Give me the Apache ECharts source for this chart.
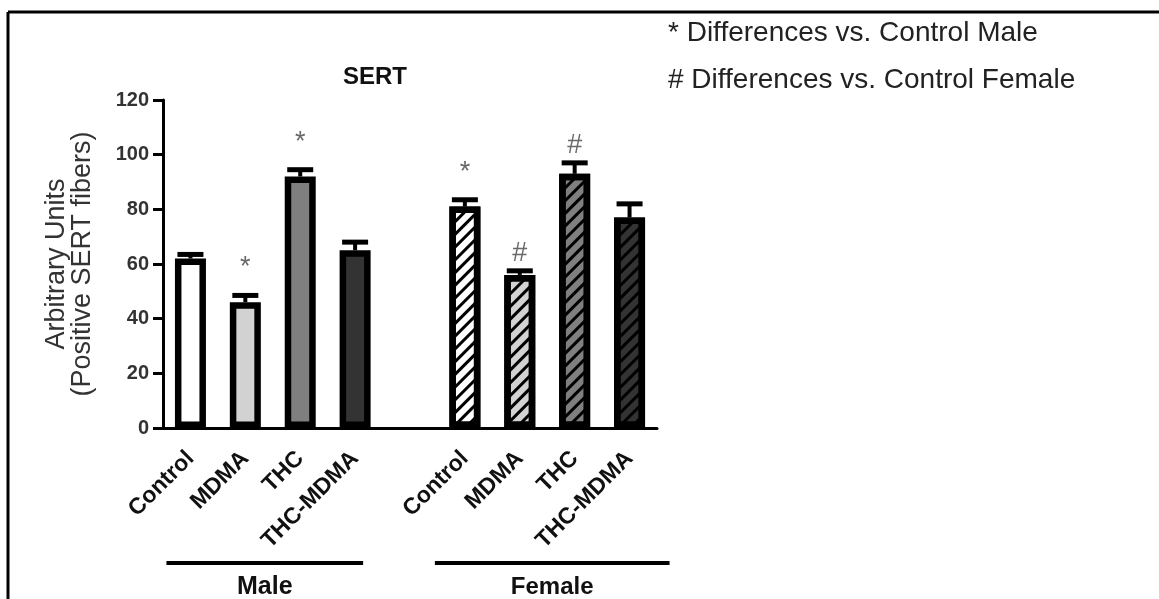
<!DOCTYPE html>
<html>
<head>
<meta charset="utf-8">
<script src="https://cdn.jsdelivr.net/npm/echarts@6/dist/echarts.min.js"></script>
<style>
  html, body { margin: 0; padding: 0; background: #fff; }
  #chart { width: 1159px; height: 599px; }
</style>
</head>
<body>
<div id="chart"></div>
<script>
// categories: 4 male groups, one empty gap slot, 4 female groups
const categories = ["Control", "MDMA", "THC", "THC-MDMA", "", "Control", "MDMA", "THC", "THC-MDMA"];
const means = [62, 46, 92, 65, null, 81, 56, 93, 77];
const sems = [1.5, 2.5, 2.5, 3, null, 2.5, 1.5, 4, 5];
const marks = ["", "*", "*", "", "", "*", "#", "#", ""];
const fills = ["#ffffff", "#d2d2d2", "#7f7f7f", "#333333", null, "#ffffff", "#d2d2d2", "#7f7f7f", "#333333"];
const hatched = [false, false, false, false, false, true, true, true, true];
const yTicks = [0, 20, 40, 60, 80, 100, 120];

let myChart = echarts.init(document.getElementById("chart"));

let barData = [];
let errData = [];
let markData = [];
for (let i = 0; i < categories.length; i++) {
  if (means[i] === null) {
    barData.push("-");
    continue;
  }
  let item = {
    value: means[i],
    itemStyle: {
      color: fills[i],
      borderColor: "#000",
      borderWidth: 6.5,
    },
  };
  if (hatched[i]) {
    item.itemStyle.decal = {
      symbol: "rect",
      symbolSize: 1,
      color: "#000",
      dashArrayX: [1, 0],
      dashArrayY: [2.7, 6],
      rotation: -Math.PI / 4,
    };
  }
  barData.push(item);
  errData.push([i, means[i], sems[i]]);
  if (marks[i]) {
    markData.push({
      value: [i, means[i] + sems[i]],
      mark: marks[i],
      label: { distance: marks[i] === "*" ? 14 : 4 },
    });
  }
}

let option = {
  animation: false,
  title: {
    text: "SERT",
    left: 370,
    textAlign: "center",
    top: 60,
    textStyle: { fontFamily: "Liberation Sans", fontSize: 24, fontWeight: "bold", color: "#111" },
  },
  grid: { left: 163, right: 502, top: 100, bottom: 171, containLabel: false },
  xAxis: {
    type: "category",
    data: categories,
    boundaryGap: true,
    axisLine: { lineStyle: { color: "#000", width: 3 } },
    axisTick: { alignWithLabel: true, length: 8, lineStyle: { color: "#000", width: 2.5 } },
    axisLabel: {
      rotate: 45,
      interval: 0,
      margin: 27,
      fontFamily: "Liberation Sans",
      fontSize: 23,
      fontWeight: "bold",
      color: "#111",
    },
  },
  yAxis: {
    type: "value",
    min: 0,
    max: 120,
    interval: 20,
    splitLine: { show: false },
    axisLine: { show: true, lineStyle: { color: "#000", width: 3 } },
    axisTick: { show: true, length: 10, lineStyle: { color: "#000", width: 3 } },
    axisLabel: {
      margin: 14,
      fontFamily: "Liberation Sans",
      fontSize: 20,
      fontWeight: "bold",
      color: "#333",
      formatter: (v) => (yTicks.indexOf(v) >= 0 ? String(v) : ""),
    },
    name: "Arbitrary Units\n(Positive SERT fibers)",
    nameLocation: "middle",
    nameRotate: 90,
    nameGap: 67,
    nameTextStyle: { fontFamily: "Liberation Sans", fontSize: 27, lineHeight: 26, color: "#333" },
  },
  series: [
    {
      type: "bar",
      data: barData,
      barWidth: 31,
      z: 2,
    },
    {
      type: "custom",
      data: errData,
      z: 3,
      renderItem: function (params, api) {
        let base = api.coord([api.value(0), api.value(1)]);
        let top = api.coord([api.value(0), api.value(1) + api.value(2)]);
        return {
          type: "group",
          children: [
            {
              type: "line",
              shape: { x1: base[0], y1: base[1], x2: top[0], y2: top[1] },
              style: { stroke: "#000", lineWidth: 4 },
            },
            {
              type: "line",
              shape: { x1: top[0] - 13, y1: top[1], x2: top[0] + 13, y2: top[1] },
              style: { stroke: "#000", lineWidth: 5 },
            },
          ],
        };
      },
    },
    {
      type: "scatter",
      data: markData,
      symbolSize: 0,
      z: 4,
      label: {
        show: true,
        position: "top",
        formatter: (p) => p.data.mark,
        fontFamily: "Liberation Sans",
        fontSize: 27,
        color: "#444",
      },
    },
  ],
};
myChart.setOption(option);

// group brackets below the category labels, placed from the axis scale
function groupBracket(first, last, padL, padR, text, size) {
  let a = myChart.convertToPixel({ xAxisIndex: 0 }, first);
  let b = myChart.convertToPixel({ xAxisIndex: 0 }, last);
  return [
    {
      type: "line",
      shape: { x1: a - padL, y1: 563, x2: b + padR, y2: 563 },
      style: { stroke: "#000", lineWidth: 4 },
    },
    {
      type: "text",
      x: (a - padL + b + padR) / 2,
      y: 587,
      style: {
        text: text,
        align: "center",
        verticalAlign: "middle",
        font: "bold " + size + "px 'Liberation Sans'",
        fill: "#111",
      },
    },
  ];
}

myChart.setOption({
  graphic: [
    { type: "line", shape: { x1: 8, y1: 12, x2: 1159, y2: 12 }, style: { stroke: "#000", lineWidth: 3 } },
    { type: "line", shape: { x1: 8, y1: 12, x2: 8, y2: 599 }, style: { stroke: "#000", lineWidth: 3 } },
    {
      type: "text",
      x: 668,
      y: 33,
      style: { text: "* Differences vs. Control Male", verticalAlign: "middle", font: "28px 'Liberation Sans'", fill: "#222" },
    },
    {
      type: "text",
      x: 668,
      y: 80,
      style: { text: "# Differences vs. Control Female", verticalAlign: "middle", font: "28px 'Liberation Sans'", fill: "#222" },
    },
  ]
    .concat(groupBracket(0, 3, 24, 8, "Male", 25))
    .concat(groupBracket(5, 8, 30, 40, "Female", 24)),
});
</script>
</body>
</html>
